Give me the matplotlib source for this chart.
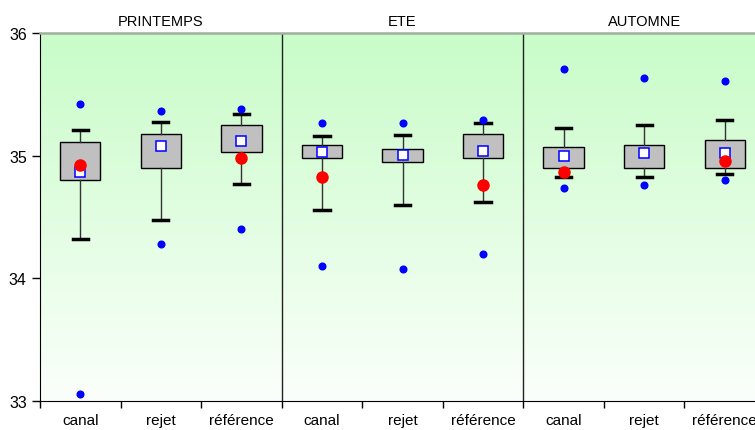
import numpy as np
import matplotlib.pyplot as plt
from matplotlib.colors import LinearSegmentedColormap

plt.rcParams['font.family'] = ['Liberation Sans', 'DejaVu Sans']

SAISONS = ["PRINTEMPS", "ETE", "AUTOMNE"]
SITES = ["canal", "rejet", "référence"]

# valeurs : canal, rejet, référence pour chaque saison
mini = [33.06, 34.28, 34.40, 34.10, 34.08, 34.20, 34.74, 34.76, 34.80]
maxi = [35.42, 35.37, 35.38, 35.27, 35.27, 35.29, 35.71, 35.64, 35.61]
moust_bas = [34.32, 34.48, 34.77, 34.56, 34.60, 34.62, 34.83, 34.83, 34.85]
moust_haut = [35.21, 35.28, 35.34, 35.16, 35.17, 35.27, 35.23, 35.25, 35.29]
q1 = [34.80, 34.90, 35.03, 34.98, 34.95, 34.98, 34.90, 34.90, 34.90]
q3 = [35.11, 35.18, 35.25, 35.09, 35.06, 35.18, 35.07, 35.09, 35.13]
moyenne = [34.87, 35.08, 35.12, 35.03, 35.01, 35.04, 35.00, 35.02, 35.02]
point_rouge = [34.93, None, 34.98, 34.83, None, 34.76, 34.87, None, 34.96]

# ---------------------------------------------------------
# figure : une seule zone, 3 saisons x 3 sites
# ---------------------------------------------------------
W, H = 755, 431
fig = plt.figure(figsize=(W / 100, H / 100), dpi=100)
ax = fig.add_axes([40 / W, 29 / H, 725 / W, 367.6 / H])

n = len(SAISONS) * len(SITES)
positions = np.arange(n) + 0.5

stats = []
for i in range(n):
    stats.append({
        "med": q1[i], "q1": q1[i], "q3": q3[i],
        "whislo": moust_bas[i], "whishi": moust_haut[i],
        "fliers": [mini[i], maxi[i]], "mean": moyenne[i],
    })

ax.bxp(stats, positions=positions, widths=0.5, patch_artist=True,
       showmeans=True, showfliers=True,
       boxprops=dict(facecolor="#c0c0c0", edgecolor="black", linewidth=1),
       medianprops=dict(linewidth=0),
       whiskerprops=dict(color="#333333", linewidth=1),
       capprops=dict(color="black", linewidth=2.5),
       capwidths=0.19,
       flierprops=dict(marker="o", markerfacecolor="blue", markeredgecolor="blue",
                       markersize=4.8, linestyle="none"),
       meanprops=dict(marker="s", markerfacecolor="white", markeredgecolor="blue",
                      markersize=7, markeredgewidth=1.1),
       zorder=3)

rouge = np.array([np.nan if v is None else v for v in point_rouge])
ax.plot(positions, rouge, "o", color="red", markersize=8, linestyle="none", zorder=5)

# fond en degrade vert -> blanc
degrade = LinearSegmentedColormap.from_list("vert", ["#fbfffb", "#c8fcc8"])
ax.imshow(np.linspace(0, 1, 256).reshape(-1, 1), cmap=degrade, aspect="auto",
          extent=[0, n, 33, 36], origin="lower", zorder=0)

for x in [3, 6]:
    ax.axvline(x, color="#222222", linewidth=1, zorder=2)

ax.set_xlim(0, n)
ax.set_ylim(33, 36)
ax.set_yticks([33, 34, 35, 36])
ax.set_xticks(np.arange(n + 1))
ax.set_xticklabels([])
ax.set_xticks(positions, minor=True)
ax.set_xticklabels(SITES * len(SAISONS), minor=True)
ax.tick_params(axis="x", which="major", direction="out", length=5, width=1)
ax.tick_params(axis="x", which="minor", length=0, pad=9, labelsize=11)
ax.tick_params(axis="y", direction="out", length=6, width=1, labelsize=11.5)

ax.spines["right"].set_visible(False)
ax.spines["top"].set_color("#a0b0a0")
ax.spines["top"].set_linewidth(1.8)

largeur = 725 / len(SAISONS)
for k, saison in enumerate(SAISONS):
    cx = (40 + largeur * (k + 0.5)) / W
    fig.text(cx, 1 - 22 / H, saison, ha="center", va="center", fontsize=10.5)

fig.savefig("out.png", dpi=100)
